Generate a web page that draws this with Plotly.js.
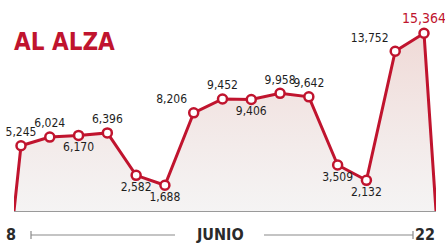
<!DOCTYPE html>
<html>
<head>
<meta charset="utf-8">
<script src="https://cdn.plot.ly/plotly-3.0.1.min.js"></script>
<style>html,body{margin:0;padding:0;background:#fff;}#chart{width:445px;height:246px;}</style>
</head>
<body>
<div id="chart"></div>
<script>
// Data
const days = [8, 9, 10, 11, 12, 13, 14, 15, 16, 17, 18, 19, 20, 21, 22];
const values = [5245, 6024, 6170, 6396, 2582, 1688, 8206, 9452, 9406, 9958, 9642, 3509, 2132, 13752, 15364];
const labels = ["5,245", "6,024", "6,170", "6,396", "2,582", "1,688", "8,206", "9,452", "9,406", "9,958", "9,642", "3,509", "2,132", "13,752", "15,364"];
const monthLabel = "JUNIO";
const firstDayLabel = "8";
const lastDayLabel = "22";
const titleText = "AL ALZA";

// Scales
const xRange = [7.757, 22.417];
const yRange = [-630, 16560];

const red = "#c0142e";
const font = "DejaVu Sans Condensed, Liberation Sans Narrow, sans-serif";

// Closed outline: baseline at the range edges, drops down at both ends
const xs = [xRange[0]].concat(days, [xRange[1]]);
const ys = [yRange[0]].concat(values, [yRange[0]]);

const positions = ["top center", "top center", "bottom center", "top center", "bottom center", "bottom center",
  "top left", "top center", "bottom center", "top center", "top center", "bottom center", "bottom center",
  "top left", "top center"];

const fillTrace = {
  x: xs, y: ys, type: "scatter", mode: "none", fill: "toself",
  fillgradient: {type: "vertical", colorscale: [[0, "rgba(238,236,236,0.6)"], [1, "rgba(236,208,204,0.8)"]]},
  fillcolor: "rgba(240,215,212,0.4)",
  hoverinfo: "skip", showlegend: false
};
const lineTrace = {
  x: xs, y: ys, type: "scatter", mode: "lines",
  line: {color: red, width: 3},
  hoverinfo: "skip", showlegend: false, cliponaxis: false
};
const pointTrace = {
  x: days, y: values, type: "scatter", mode: "markers+text",
  text: labels, textposition: positions,
  textfont: {family: font, size: values.map((v, i) => i === values.length - 1 ? 14 : 12),
             color: values.map((v, i) => i === values.length - 1 ? red : "#1e1e1e")},
  marker: {size: 9, color: "#fff", line: {color: red, width: 2.5}},
  cliponaxis: false, showlegend: false
};

const layout = {
  width: 445, height: 246,
  margin: {l: 14, r: 9, t: 20, b: 35},
  paper_bgcolor: "#fff", plot_bgcolor: "#fff",
  showlegend: false,
  title: {text: "<b>" + titleText + "</b>", font: {family: font, size: 24, color: red},
          x: 14 / 445, xanchor: "left", xref: "container", y: 1 - 42 / 246, yanchor: "middle", yref: "container"},
  xaxis: {range: xRange, showgrid: false, zeroline: false, showticklabels: false, ticks: "",
          showline: true, linecolor: "#9a9a9a", linewidth: 1, fixedrange: true},
  yaxis: {range: yRange, showgrid: false, zeroline: false, showticklabels: false, ticks: "",
          showline: false, fixedrange: true},
  annotations: [
    {text: "<b>" + firstDayLabel + "</b>", xref: "paper", yref: "paper", x: -3 / 422, y: -24 / 191, xanchor: "center", yanchor: "middle",
     showarrow: false, font: {family: font, size: 16, color: "#2a2a2a"}},
    {text: "<b>" + monthLabel + "</b>", xref: "paper", yref: "paper", x: (220 - 14) / 422, y: -24 / 191, xanchor: "center", yanchor: "middle",
     showarrow: false, font: {family: font, size: 16, color: "#2a2a2a"}},
    {text: "<b>" + lastDayLabel + "</b>", xref: "paper", yref: "paper", x: (425 - 14) / 422, y: -24 / 191, xanchor: "center", yanchor: "middle",
     showarrow: false, font: {family: font, size: 16, color: "#2a2a2a"}}
  ],
  shapes: [
    {type: "line", xref: "paper", yref: "paper", x0: (31 - 14) / 422, x1: (175 - 14) / 422, y0: -24 / 191, y1: -24 / 191, line: {color: "#8a8a8a", width: 1.2}},
    {type: "line", xref: "paper", yref: "paper", x0: (31 - 14) / 422, x1: (31 - 14) / 422, y0: -20 / 191, y1: -28 / 191, line: {color: "#8a8a8a", width: 1.2}},
    {type: "line", xref: "paper", yref: "paper", x0: (264 - 14) / 422, x1: (413 - 14) / 422, y0: -24 / 191, y1: -24 / 191, line: {color: "#8a8a8a", width: 1.2}},
    {type: "line", xref: "paper", yref: "paper", x0: (413 - 14) / 422, x1: (413 - 14) / 422, y0: -20 / 191, y1: -28 / 191, line: {color: "#8a8a8a", width: 1.2}}
  ]
};

Plotly.newPlot("chart", [fillTrace, lineTrace, pointTrace], layout, {staticPlot: true, displayModeBar: false});
</script>
</body>
</html>
